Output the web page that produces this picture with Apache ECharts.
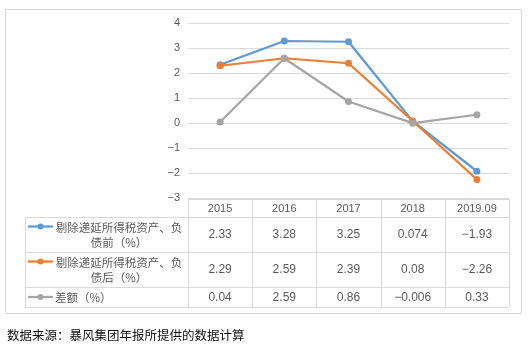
<!DOCTYPE html>
<html>
<head>
<meta charset="utf-8">
<script src="https://cdn.jsdelivr.net/npm/echarts@6/dist/echarts.min.js"></script>
<style>
  html, body { margin: 0; padding: 0; background: #fff; }
  #chart { width: 528px; height: 345px; }
</style>
</head>
<body>
<div id="chart"></div>
<script>
// Periods and series values (percent)
const categories = ['2015', '2016', '2017', '2018', '2019.09'];
const beforeValues = [2.33, 3.28, 3.25, 0.074, -1.93];
const afterValues = [2.29, 2.59, 2.39, 0.08, -2.26];
const diffValues = [0.04, 2.59, 0.86, -0.006, 0.33];
const beforeLabels = ['2.33', '3.28', '3.25', '0.074', '−1.93'];
const afterLabels = ['2.29', '2.59', '2.39', '0.08', '−2.26'];
const diffLabels = ['0.04', '2.59', '0.86', '−0.006', '0.33'];
const seriesNames = ['剔除递延所得税资产、负\n债前（%）', '剔除递延所得税资产、负\n债后（%）', '差额（%）'];
const sourceNote = '数据来源：暴风集团年报所提供的数据计算';

const colors = ['#5B9BD5', '#ED7D31', '#A5A5A5'];
const textColor = '#595959';
const borderColor = '#D9D9D9';
const cjkFont = '"Noto Sans CJK SC", sans-serif';
const numFont = '"Liberation Sans", Arial, sans-serif';

// Plot area geometry
const W = 528, H = 345;
const plotLeft = 188, plotRight = 509, plotTop = 23, plotBottom = 198;
const tableLeft = 25;
const rowEdges = [199, 217, 252, 287, 307];

const chart = echarts.init(document.getElementById('chart'), null, { renderer: 'canvas' });

function buildTable() {
  const g = [];
  const n = categories.length;
  const band = (plotRight - plotLeft) / n;
  const colEdges = [];
  for (let i = 0; i <= n; i++) colEdges.push(plotLeft + band * i);
  const tableRight = colEdges[n];
  const lineStyle = { stroke: borderColor, lineWidth: 1 };
  const px = v => Math.round(v) + 0.5;

  // outer frame of the chart
  g.push({ type: 'rect', shape: { x: 5.5, y: 9.5, width: 516, height: 304 },
           style: { fill: 'none', stroke: borderColor, lineWidth: 1 }, silent: true });

  // horizontal rules
  g.push({ type: 'line', shape: { x1: plotLeft, y1: px(rowEdges[0]), x2: tableRight, y2: px(rowEdges[0]) }, style: lineStyle });
  for (let r = 1; r < rowEdges.length; r++) {
    g.push({ type: 'line', shape: { x1: tableLeft, y1: px(rowEdges[r]), x2: tableRight, y2: px(rowEdges[r]) }, style: lineStyle });
  }
  // vertical rules
  g.push({ type: 'line', shape: { x1: px(tableLeft), y1: rowEdges[1], x2: px(tableLeft), y2: rowEdges[4] }, style: lineStyle });
  for (let c = 0; c <= n; c++) {
    g.push({ type: 'line', shape: { x1: px(colEdges[c]), y1: rowEdges[0], x2: px(colEdges[c]), y2: rowEdges[4] }, style: lineStyle });
  }

  // header row: category names
  categories.forEach((c, i) => {
    g.push({ type: 'text', x: (colEdges[i] + colEdges[i + 1]) / 2, y: (rowEdges[0] + rowEdges[1]) / 2 + 0.5,
      style: { text: c, fill: textColor, font: '11px ' + numFont, textAlign: 'center', textVerticalAlign: 'middle' } });
  });

  // body rows: legend key + values
  const rows = [beforeLabels, afterLabels, diffLabels];
  rows.forEach((vals, r) => {
    const yc = (rowEdges[r + 1] + rowEdges[r + 2]) / 2;
    const multi = seriesNames[r].indexOf('\n') >= 0;
    const keyY = multi ? yc - 8 : yc;
    g.push({ type: 'line', shape: { x1: 28, y1: keyY, x2: 53, y2: keyY },
             style: { stroke: colors[r], lineWidth: 2.25 } });
    g.push({ type: 'circle', shape: { cx: 40.5, cy: keyY, r: 3 }, style: { fill: colors[r] } });
    g.push({ type: 'text', x: multi ? 119 : 55, y: yc + 0.5,
      style: { text: seriesNames[r], fill: textColor, font: '11.5px ' + cjkFont,
               textAlign: multi ? 'center' : 'left', textVerticalAlign: 'middle', lineHeight: 15 } });
    vals.forEach((v, i) => {
      g.push({ type: 'text', x: (colEdges[i] + colEdges[i + 1]) / 2, y: yc + 0.5,
        style: { text: v, fill: textColor, font: '12px ' + numFont, textAlign: 'center', textVerticalAlign: 'middle' } });
    });
  });

  // source note
  g.push({ type: 'text', x: 7, y: 335,
    style: { text: sourceNote, fill: '#111', font: '12.5px ' + cjkFont, textAlign: 'left', textVerticalAlign: 'middle' } });
  return g;
}

function lineSeries(name, data, color) {
  return {
    name, type: 'line', data,
    symbol: 'circle', symbolSize: 7,
    lineStyle: { color, width: 2.25 },
    itemStyle: { color },
    emphasis: { disabled: true },
    animation: false
  };
}

chart.setOption({
  animation: false,
  backgroundColor: '#fff',
  grid: { left: plotLeft, right: W - plotRight, top: plotTop, bottom: H - plotBottom, containLabel: false },
  xAxis: {
    type: 'category', data: categories, boundaryGap: true,
    axisLine: { show: false }, axisTick: { show: false }, axisLabel: { show: false }, splitLine: { show: false }
  },
  yAxis: {
    type: 'value', min: -3, max: 4, interval: 1,
    axisLine: { show: false }, axisTick: { show: false },
    axisLabel: { color: textColor, fontSize: 11, fontFamily: numFont, margin: 8,
                 formatter: v => String(v).replace('-', '−') },
    splitLine: { lineStyle: { color: borderColor, width: 1 } }
  },
  series: [
    lineSeries('before', beforeValues, colors[0]),
    lineSeries('after', afterValues, colors[1]),
    lineSeries('diff', diffValues, colors[2])
  ],
  graphic: buildTable()
});
</script>
</body>
</html>
